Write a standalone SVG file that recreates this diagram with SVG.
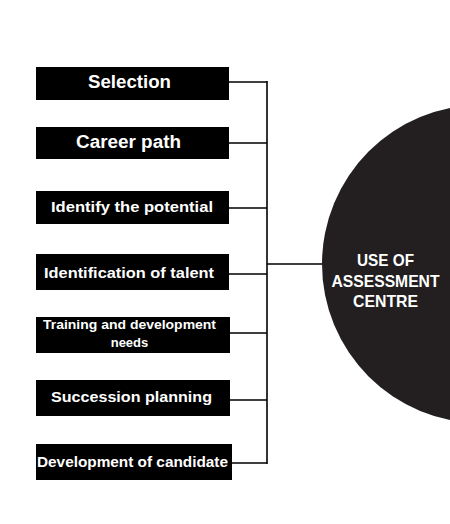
<svg xmlns="http://www.w3.org/2000/svg" width="450" height="524" viewBox="0 0 450 524">
<style>
.box{fill:#000}
.t{fill:#fff;font-family:"Liberation Sans",Arial,sans-serif;font-weight:bold;text-anchor:middle}
.c{stroke:#000;stroke-width:1.6;fill:none}
</style>
<rect width="450" height="524" fill="#fff"/>
<g id="connectors">
<path class="c" d="M267 81V464"/>
<path class="c" d="M229 82H267M229 143H267M229 208H267M229 274H267M230 333H267M230 400H267M232 463H267M267 264H323"/>
</g>
<g id="centre">
<circle cx="481" cy="264" r="159" fill="#231f20"/>
<text class="t" x="385.5" y="266" font-size="16.5" textLength="57" lengthAdjust="spacingAndGlyphs">USE OF</text>
<text class="t" x="385.5" y="287" font-size="16.5" textLength="108" lengthAdjust="spacingAndGlyphs">ASSESSMENT</text>
<text class="t" x="385.5" y="307" font-size="16.5" textLength="65" lengthAdjust="spacingAndGlyphs">CENTRE</text>
</g>
<g id="n1"><rect class="box" x="36" y="67" width="193" height="33"/><text class="t" x="129.5" y="88" font-size="19" textLength="83" lengthAdjust="spacingAndGlyphs">Selection</text></g>
<g id="n2"><rect class="box" x="36" y="127" width="193" height="32"/><text class="t" x="128.5" y="148" font-size="18" textLength="105" lengthAdjust="spacingAndGlyphs">Career path</text></g>
<g id="n3"><rect class="box" x="36" y="191" width="193" height="33"/><text class="t" x="132" y="212" font-size="15.5" textLength="162" lengthAdjust="spacingAndGlyphs">Identify the potential</text></g>
<g id="n4"><rect class="box" x="36" y="254" width="193" height="36"/><text class="t" x="129" y="278" font-size="15.5" textLength="170" lengthAdjust="spacingAndGlyphs">Identification of talent</text></g>
<g id="n5"><rect class="box" x="36" y="317" width="194" height="36"/><text class="t" x="129.5" y="329" font-size="13" textLength="173" lengthAdjust="spacingAndGlyphs">Training and development</text><text class="t" x="129.5" y="347" font-size="13">needs</text></g>
<g id="n6"><rect class="box" x="36" y="380" width="194" height="36"/><text class="t" x="131.5" y="402" font-size="15.5" textLength="161" lengthAdjust="spacingAndGlyphs">Succession planning</text></g>
<g id="n7"><rect class="box" x="36" y="444" width="196" height="36"/><text class="t" x="132.5" y="467" font-size="14.5" textLength="191" lengthAdjust="spacingAndGlyphs">Development of candidate</text></g>
</svg>
